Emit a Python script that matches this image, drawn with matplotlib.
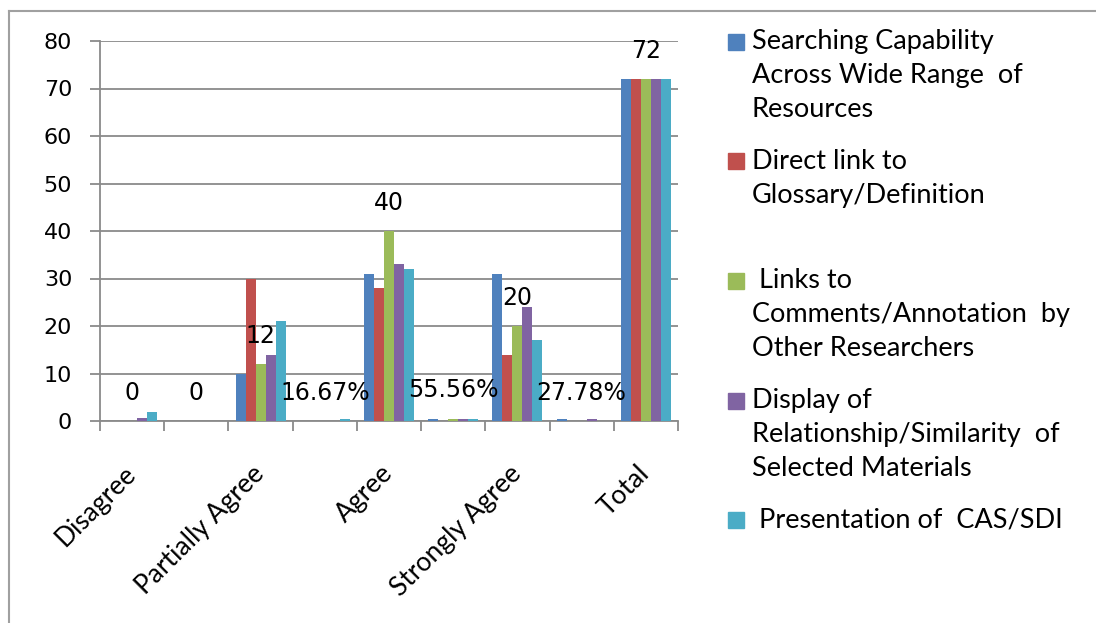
import matplotlib
matplotlib.use("Agg")
import matplotlib.pyplot as plt
from matplotlib.lines import Line2D
from matplotlib.patches import Rectangle
import numpy as np

# categories (every other one has no visible axis label)
categories = ["Disagree", "", "Partially Agree", "", "Agree", "", "Strongly Agree", "", "Total"]

series_names = [
    "Searching Capability\nAcross Wide Range  of\nResources",
    "Direct link to\nGlossary/Definition",
    " Links to\nComments/Annotation  by\nOther Researchers",
    "Display of\nRelationship/Similarity  of\nSelected Materials",
    " Presentation of  CAS/SDI",
]
colors = ["#4F81BD", "#C0504D", "#9BBB59", "#8064A2", "#4BACC6"]

searching = [0, 0, 10, 0, 31, 0.5, 31, 0.5, 72]
glossary = [0, 0, 30, 0, 28, 0, 14, 0, 72]
comments = [0, 0, 12, 0, 40, 0.5, 20, 0, 72]
display = [0.7, 0, 14, 0, 33, 0.5, 24, 0.5, 72]
cas_sdi = [1.8, 0, 21, 0.5, 32, 0.5, 17, 0, 72]
series = [searching, glossary, comments, display, cas_sdi]

# data labels shown on the green series
label_text = ["0", "0", "12", "16.67%", "40", "55.56%", "20", "27.78%", "72"]

W, H = 1096, 623
fig = plt.figure(figsize=(W / 100, H / 100), dpi=100)
ax = fig.add_axes([100 / W, (H - 421) / H, 578 / W, 380 / H])

x = np.arange(len(categories))
bw = 0.156
for k, (vals, c) in enumerate(zip(series, colors)):
    ax.bar(x + (k - 2) * bw, vals, width=bw, color=c, zorder=3)

for i, (v, t) in enumerate(zip(comments, label_text)):
    ax.annotate(t, (x[i], v), xytext=(0, 20.5), textcoords="offset points",
                ha="center", va="center", fontsize=17, color="black", zorder=5)

grid_c = "#8a8a8a"
ax.set_xlim(-0.5, len(categories) - 0.5)
ax.set_ylim(0, 80)
ax.set_yticks(range(0, 81, 10))
ax.yaxis.grid(True, color=grid_c, lw=1.3, zorder=0)
ax.tick_params(axis="y", direction="out", length=7, width=1.3, color=grid_c,
               pad=13, labelsize=16)
for s in ["top", "right"]:
    ax.spines[s].set_visible(False)
for s in ["left", "bottom"]:
    ax.spines[s].set_color(grid_c)
    ax.spines[s].set_linewidth(1.3)

# boundary ticks as minor, labels on major
ax.set_xticks(np.arange(-0.5, len(categories)), minor=True)
ax.tick_params(axis="x", which="minor", direction="out", length=7, width=1.3, color=grid_c)
shown = [i for i, c in enumerate(categories) if c]
ax.set_xticks(shown)
ax.set_xticklabels([categories[i] for i in shown], rotation=45, ha="right",
                   va="center", rotation_mode="anchor", fontsize=19, family="Lato")
ax.tick_params(axis="x", which="major", length=0, pad=35)

# legend drawn by hand
line_h = 34
for k, (name, c) in enumerate(zip(series_names, colors)):
    y0 = 41.7 + 119.6 * k
    fig.patches.append(Rectangle((728 / W, 1 - (y0 + 8) / H), 16 / W, 16 / H,
                                 transform=fig.transFigure, color=c))
    for j, line in enumerate(name.split("\n")):
        fig.text(752 / W, 1 - (y0 + j * line_h) / H, line, ha="left", va="center",
                 fontsize=19.5, family="Lato")

# chart border
border_c = "#a0a0a0"
fig.lines.append(Line2D([9 / W, 1], [1 - 11 / H, 1 - 11 / H], transform=fig.transFigure,
                        color=border_c, lw=1.5))
fig.lines.append(Line2D([9 / W, 9 / W], [0, 1 - 11 / H], transform=fig.transFigure,
                        color=border_c, lw=1.5))

fig.savefig("out.png", dpi=100)
